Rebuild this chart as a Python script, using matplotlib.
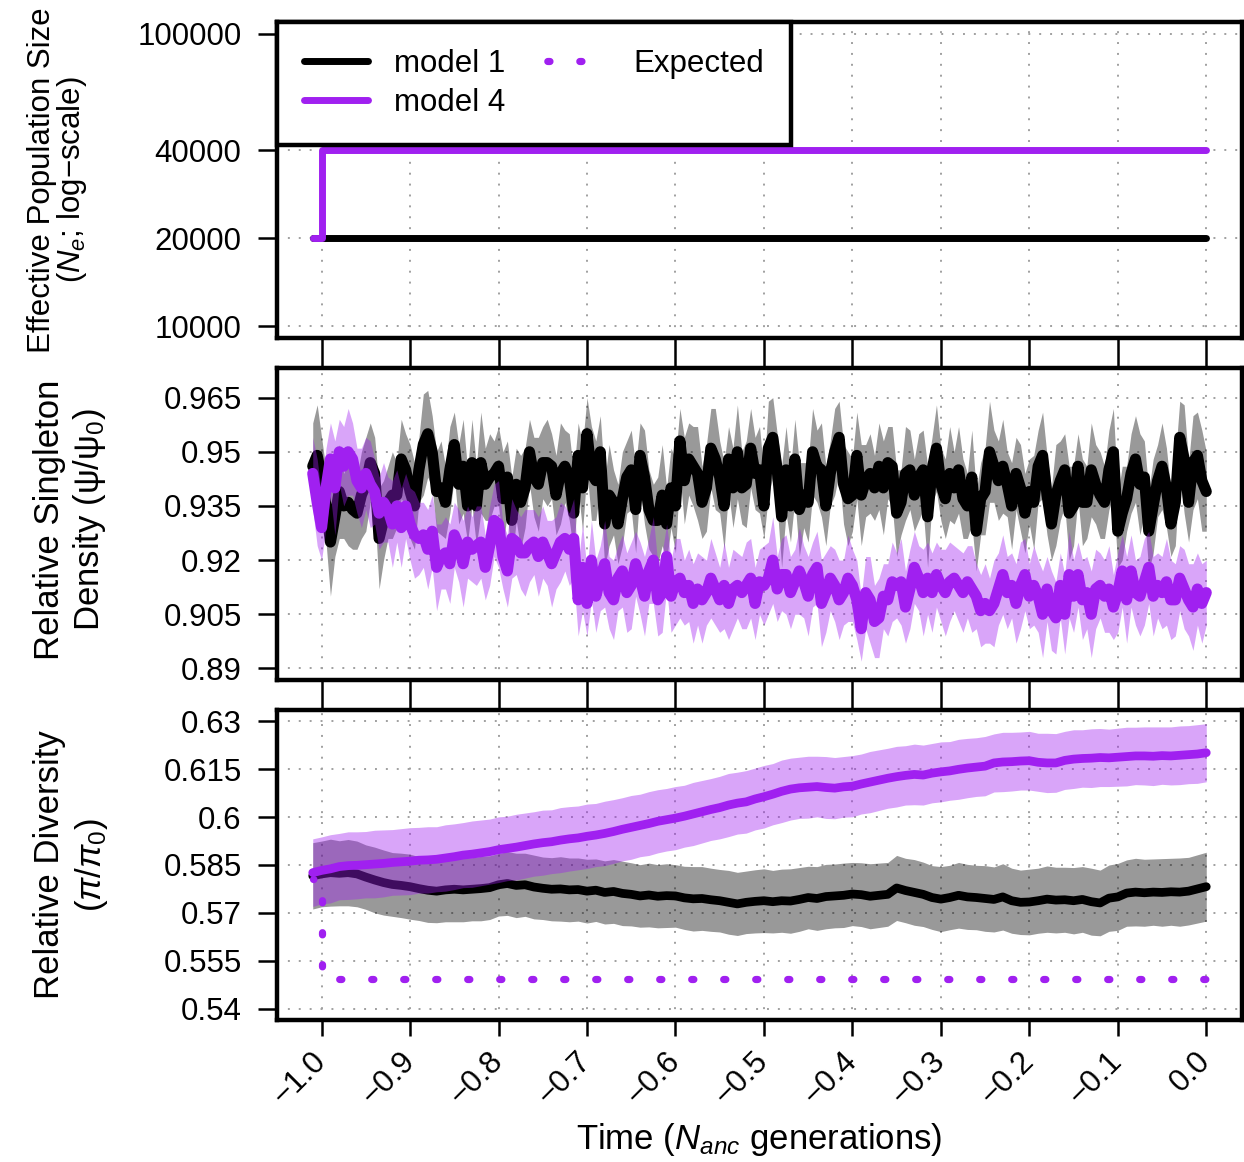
import numpy as np
import matplotlib
matplotlib.use("Agg")
import matplotlib.pyplot as plt
from matplotlib.lines import Line2D
from matplotlib.ticker import NullLocator

plt.rcParams['font.family'] = ['Liberation Sans', 'DejaVu Sans']
plt.rcParams['mathtext.fontset'] = 'custom'
plt.rcParams['mathtext.rm'] = 'Liberation Sans'
plt.rcParams['mathtext.it'] = 'Liberation Sans:italic'
plt.rcParams['mathtext.bf'] = 'Liberation Sans:bold'

# ---------------- data ----------------
# Panel 1: effective population size
ne_time = [-1.01, -1.0, 0.0]
ne_model1 = [20000, 20000, 20000]
ne_model4 = [20000, 40000, 40000]

# Panel 2: relative singleton density (time step 0.005 from -1.01 to 0)
sfs_time = np.round(np.linspace(-1.01, 0.0, 203), 3)
sfs_model1 = [
    0.946, 0.949, 0.943, 0.935, 0.925, 0.932, 0.939, 0.935, 0.936, 0.934,
    0.933, 0.938, 0.941, 0.947, 0.944, 0.926, 0.931, 0.936, 0.938, 0.938,
    0.948, 0.945, 0.939, 0.935, 0.945, 0.952, 0.955, 0.950, 0.939, 0.940,
    0.936, 0.945, 0.952, 0.941, 0.946, 0.935, 0.947, 0.935, 0.947, 0.941,
    0.943, 0.944, 0.946, 0.937, 0.943, 0.931, 0.941, 0.936, 0.940, 0.950,
    0.943, 0.941, 0.947, 0.947, 0.946, 0.938, 0.944, 0.946, 0.943, 0.933,
    0.949, 0.940, 0.955, 0.944, 0.942, 0.950, 0.930, 0.938, 0.936, 0.930,
    0.937, 0.943, 0.945, 0.934, 0.949, 0.943, 0.934, 0.931, 0.931, 0.938,
    0.930, 0.940, 0.935, 0.953, 0.942, 0.948, 0.946, 0.944, 0.936, 0.940,
    0.951, 0.948, 0.943, 0.935, 0.948, 0.940, 0.950, 0.940, 0.941,
    0.951, 0.944, 0.945, 0.935, 0.951, 0.954, 0.945, 0.932, 0.945, 0.935,
    0.948, 0.934, 0.938, 0.936, 0.950, 0.946, 0.945, 0.935, 0.944, 0.950,
    0.954, 0.941, 0.937, 0.938, 0.949, 0.938, 0.942, 0.944, 0.940, 0.946,
    0.940, 0.947, 0.946, 0.933, 0.936, 0.944, 0.945, 0.938, 0.943, 0.945,
    0.932, 0.945, 0.951, 0.941, 0.937, 0.944, 0.940, 0.945, 0.937, 0.935,
    0.943, 0.928, 0.937, 0.939, 0.950, 0.946, 0.942, 0.946, 0.941, 0.935,
    0.944, 0.940, 0.933, 0.939, 0.936, 0.946, 0.949, 0.938, 0.930, 0.938,
    0.942, 0.945, 0.933, 0.935, 0.946, 0.936, 0.936, 0.945, 0.941, 0.938,
    0.936, 0.945, 0.950, 0.928, 0.933, 0.937, 0.944, 0.948, 0.941, 0.943,
    0.928, 0.935, 0.942, 0.946, 0.940, 0.930, 0.936, 0.954, 0.948, 0.936,
    0.947, 0.949, 0.942, 0.939]
sfs_model4 = [
    0.944, 0.936, 0.929, 0.940, 0.948, 0.940, 0.950, 0.946, 0.950, 0.948,
    0.942, 0.940, 0.944, 0.941, 0.939, 0.933, 0.936, 0.934, 0.930, 0.935,
    0.929, 0.935, 0.930, 0.927, 0.926, 0.927, 0.923, 0.928, 0.918, 0.921,
    0.922, 0.919, 0.927, 0.924, 0.919, 0.925, 0.923, 0.924, 0.925, 0.918,
    0.924, 0.931, 0.930, 0.921, 0.917, 0.926, 0.925, 0.922, 0.922, 0.924,
    0.925, 0.921, 0.925, 0.922, 0.919, 0.922, 0.925, 0.926, 0.923, 0.926,
    0.909, 0.918, 0.908, 0.920, 0.910, 0.915, 0.919, 0.911, 0.909, 0.915,
    0.917, 0.911, 0.913, 0.919, 0.915, 0.910, 0.917, 0.920, 0.909, 0.911,
    0.921, 0.910, 0.914, 0.915, 0.911, 0.913, 0.908, 0.912, 0.909, 0.911,
    0.915, 0.912, 0.909, 0.913, 0.908, 0.912, 0.913, 0.911, 0.913,
    0.915, 0.908, 0.914, 0.913, 0.915, 0.920, 0.912, 0.916, 0.916, 0.911,
    0.914, 0.917, 0.914, 0.910, 0.916, 0.918, 0.908, 0.911, 0.915, 0.913,
    0.909, 0.911, 0.915, 0.913, 0.909, 0.901, 0.911, 0.909, 0.903, 0.904,
    0.910, 0.909, 0.914, 0.913, 0.914, 0.907, 0.912, 0.918, 0.915, 0.911,
    0.915, 0.911, 0.916, 0.913, 0.911, 0.914, 0.915, 0.913, 0.911, 0.914,
    0.912, 0.910, 0.906, 0.908, 0.906, 0.908, 0.912, 0.916, 0.911, 0.913,
    0.908, 0.913, 0.916, 0.910, 0.913, 0.910, 0.905, 0.912, 0.906, 0.904,
    0.913, 0.905, 0.916, 0.910, 0.916, 0.909, 0.911, 0.905, 0.912, 0.913,
    0.910, 0.912, 0.907, 0.911, 0.917, 0.909, 0.917, 0.911, 0.910, 0.914,
    0.918, 0.910, 0.913, 0.911, 0.914, 0.909, 0.909, 0.915, 0.912, 0.909,
    0.907, 0.912, 0.908, 0.911]
sfs_model1_hw = [
    0.012, 0.014, 0.011, 0.010, 0.015, 0.011, 0.013, 0.009, 0.012, 0.011,
    0.010, 0.012, 0.013, 0.011, 0.010, 0.014, 0.011, 0.010, 0.012, 0.009,
    0.011, 0.010, 0.013, 0.012, 0.009, 0.014, 0.012, 0.010, 0.011, 0.013,
    0.010, 0.012, 0.009, 0.011, 0.013, 0.010, 0.012, 0.011, 0.014, 0.010,
    0.012, 0.009, 0.011, 0.013, 0.010, 0.012, 0.010, 0.013, 0.011, 0.009,
    0.011, 0.013, 0.010, 0.012, 0.009, 0.011, 0.014, 0.010, 0.012, 0.011,
    0.009, 0.012, 0.010, 0.013, 0.011, 0.010, 0.012, 0.014, 0.009, 0.011,
    0.013, 0.010, 0.011, 0.012, 0.009, 0.013, 0.011, 0.010, 0.012, 0.014,
    0.010, 0.011, 0.013, 0.009, 0.012, 0.010, 0.011, 0.013, 0.010, 0.012,
    0.011, 0.014, 0.010, 0.012, 0.009, 0.011, 0.013, 0.010, 0.012, 0.011,
    0.010, 0.012, 0.009, 0.013, 0.011, 0.010, 0.014, 0.012, 0.010, 0.011,
    0.013, 0.009, 0.011, 0.012, 0.010, 0.013, 0.011, 0.009, 0.012, 0.010,
    0.011, 0.013, 0.010, 0.012, 0.014, 0.010, 0.011, 0.009, 0.012, 0.013,
    0.010, 0.011, 0.012, 0.009, 0.013, 0.011, 0.010, 0.012, 0.011, 0.014,
    0.009, 0.012, 0.010, 0.011, 0.013, 0.010, 0.012, 0.011, 0.009, 0.013,
    0.011, 0.010, 0.012, 0.014, 0.010, 0.011, 0.013, 0.009, 0.012, 0.010,
    0.012, 0.011, 0.009, 0.013, 0.010, 0.012, 0.011, 0.010, 0.014, 0.011,
    0.010, 0.013, 0.011, 0.009, 0.012, 0.010, 0.013, 0.011, 0.012, 0.010,
    0.011, 0.012, 0.010, 0.013, 0.009, 0.011, 0.012, 0.014, 0.010, 0.011,
    0.013, 0.010, 0.012, 0.011, 0.009, 0.012, 0.010, 0.015, 0.011, 0.013,
    0.012, 0.014, 0.011]
sfs_model4_hw = [
    0.010, 0.012, 0.009, 0.011, 0.010, 0.013, 0.009, 0.011, 0.012, 0.010,
    0.009, 0.011, 0.010, 0.012, 0.009, 0.010, 0.011, 0.009, 0.012, 0.010,
    0.011, 0.009, 0.010, 0.012, 0.010, 0.009, 0.011, 0.010, 0.012, 0.009,
    0.010, 0.011, 0.009, 0.010, 0.012, 0.010, 0.009, 0.011, 0.010, 0.009,
    0.011, 0.010, 0.012, 0.009, 0.010, 0.011, 0.009, 0.010, 0.012, 0.010,
    0.009, 0.011, 0.010, 0.009, 0.012, 0.010, 0.011, 0.009, 0.010, 0.011,
    0.010, 0.012, 0.009, 0.011, 0.010, 0.009, 0.012, 0.010, 0.011, 0.009,
    0.010, 0.011, 0.012, 0.009, 0.010, 0.011, 0.009, 0.012, 0.010, 0.011,
    0.009, 0.010, 0.012, 0.011, 0.009, 0.010, 0.011, 0.010, 0.012, 0.009,
    0.011, 0.010, 0.009, 0.012, 0.010, 0.011, 0.009, 0.010, 0.012, 0.011,
    0.010, 0.009, 0.011, 0.010, 0.012, 0.009, 0.010, 0.011, 0.010, 0.009,
    0.012, 0.010, 0.011, 0.009, 0.010, 0.012, 0.011, 0.009, 0.010, 0.011,
    0.009, 0.012, 0.010, 0.011, 0.009, 0.010, 0.012, 0.010, 0.011, 0.009,
    0.010, 0.011, 0.009, 0.012, 0.010, 0.011, 0.010, 0.009, 0.012, 0.010,
    0.011, 0.009, 0.010, 0.012, 0.011, 0.009, 0.010, 0.011, 0.010, 0.012,
    0.009, 0.010, 0.011, 0.009, 0.012, 0.010, 0.011, 0.010, 0.009, 0.011,
    0.012, 0.010, 0.009, 0.011, 0.010, 0.012, 0.009, 0.011, 0.010, 0.009,
    0.011, 0.012, 0.010, 0.009, 0.011, 0.010, 0.012, 0.011, 0.009, 0.010,
    0.012, 0.009, 0.011, 0.010, 0.012, 0.010, 0.009, 0.011, 0.012, 0.010,
    0.011, 0.009, 0.010, 0.012, 0.011, 0.010, 0.009, 0.011, 0.010, 0.012,
    0.010, 0.011, 0.009]

# Panel 3: relative diversity (time step 0.01 from -1.01 to 0)
div_time = np.round(np.linspace(-1.01, 0.0, 102), 3)
div_model1 = [
    0.5816, 0.5822, 0.5826, 0.5824, 0.5826, 0.5822, 0.5812, 0.5803, 0.5795, 0.5789,
    0.5786, 0.5782, 0.5776, 0.5771, 0.5768, 0.5772, 0.5774, 0.5772, 0.5774, 0.5776,
    0.5779, 0.5788, 0.5792, 0.5786, 0.5788, 0.5781, 0.5777, 0.5774, 0.5775, 0.5772,
    0.5773, 0.5768, 0.5771, 0.5764, 0.5767, 0.5761, 0.5758, 0.5753, 0.5756, 0.5752,
    0.5754, 0.5753, 0.5747, 0.5744, 0.5745, 0.5741, 0.5738, 0.5733, 0.5728, 0.5733,
    0.5736, 0.5738, 0.5735, 0.5738, 0.5737, 0.5742, 0.5748, 0.5745, 0.5751, 0.5753,
    0.5755, 0.5759, 0.5757, 0.5752, 0.5755, 0.5758, 0.5778, 0.5770, 0.5764, 0.5758,
    0.5748, 0.5743, 0.5748, 0.5755, 0.5750, 0.5748, 0.5745, 0.5742, 0.5750, 0.5738,
    0.5733, 0.5734, 0.5738, 0.5743, 0.5740, 0.5741, 0.5738, 0.5742, 0.5735, 0.5731,
    0.5746, 0.5750, 0.5762, 0.5765, 0.5763, 0.5765, 0.5764, 0.5766, 0.5765, 0.5768,
    0.5775, 0.5782]
div_model4 = [
    0.5826, 0.5833, 0.5838, 0.5845, 0.5848, 0.5849, 0.5851, 0.5853, 0.5855, 0.5858,
    0.5860, 0.5862, 0.5865, 0.5866, 0.5868, 0.5872, 0.5876, 0.5881, 0.5884, 0.5888,
    0.5892, 0.5898, 0.5902, 0.5906, 0.5911, 0.5916, 0.5920, 0.5923, 0.5928, 0.5932,
    0.5935, 0.5940, 0.5944, 0.5949, 0.5955, 0.5962, 0.5968, 0.5974, 0.5980, 0.5987,
    0.5992, 0.5997, 0.6003, 0.6010, 0.6017, 0.6024, 0.6030, 0.6038, 0.6044, 0.6048,
    0.6057, 0.6064, 0.6072, 0.6081, 0.6088, 0.6092, 0.6094, 0.6096, 0.6093, 0.6091,
    0.6095, 0.6097, 0.6104, 0.6110, 0.6116, 0.6122, 0.6127, 0.6131, 0.6134, 0.6132,
    0.6138, 0.6142, 0.6145, 0.6150, 0.6154, 0.6157, 0.6160, 0.6170, 0.6173, 0.6174,
    0.6176, 0.6177, 0.6172, 0.6170, 0.6170, 0.6178, 0.6182, 0.6184, 0.6185, 0.6187,
    0.6186, 0.6188, 0.6190, 0.6192, 0.6192, 0.6191, 0.6193, 0.6192, 0.6194, 0.6196,
    0.6198, 0.6202]
div_model1_hw = [
    0.0104, 0.0103, 0.0105, 0.0102, 0.0104, 0.0103, 0.0101, 0.0103, 0.0102, 0.0100,
    0.0101, 0.0102, 0.0100, 0.0101, 0.0099, 0.0100, 0.0102, 0.0100, 0.0099, 0.0101,
    0.0100, 0.0098, 0.0100, 0.0101, 0.0099, 0.0100, 0.0098, 0.0099, 0.0101, 0.0100,
    0.0099, 0.0100, 0.0098, 0.0099, 0.0100, 0.0101, 0.0099, 0.0098, 0.0100, 0.0099,
    0.0100, 0.0098, 0.0099, 0.0101, 0.0100, 0.0099, 0.0098, 0.0100, 0.0099, 0.0098,
    0.0099, 0.0100, 0.0098, 0.0099, 0.0101, 0.0100, 0.0098, 0.0100, 0.0101, 0.0100,
    0.0101, 0.0099, 0.0100, 0.0102, 0.0101, 0.0100, 0.0102, 0.0101, 0.0103, 0.0101,
    0.0100, 0.0102, 0.0101, 0.0103, 0.0102, 0.0101, 0.0103, 0.0102, 0.0104, 0.0102,
    0.0101, 0.0103, 0.0102, 0.0104, 0.0103, 0.0102, 0.0104, 0.0103, 0.0105, 0.0103,
    0.0104, 0.0105, 0.0104, 0.0106, 0.0105, 0.0104, 0.0106, 0.0105, 0.0107, 0.0106,
    0.0107, 0.0108]
div_model4_hw = [
    0.0106, 0.0105, 0.0107, 0.0104, 0.0106, 0.0105, 0.0104, 0.0106, 0.0105, 0.0103,
    0.0104, 0.0105, 0.0103, 0.0104, 0.0102, 0.0104, 0.0103, 0.0102, 0.0104, 0.0103,
    0.0102, 0.0103, 0.0101, 0.0103, 0.0102, 0.0101, 0.0102, 0.0100, 0.0102, 0.0101,
    0.0100, 0.0101, 0.0099, 0.0101, 0.0100, 0.0099, 0.0100, 0.0098, 0.0100, 0.0099,
    0.0098, 0.0099, 0.0097, 0.0099, 0.0098, 0.0097, 0.0098, 0.0099, 0.0097, 0.0098,
    0.0097, 0.0098, 0.0096, 0.0098, 0.0097, 0.0096, 0.0097, 0.0095, 0.0097, 0.0096,
    0.0095, 0.0096, 0.0094, 0.0096, 0.0095, 0.0094, 0.0095, 0.0093, 0.0095, 0.0094,
    0.0093, 0.0094, 0.0092, 0.0094, 0.0093, 0.0092, 0.0093, 0.0091, 0.0093, 0.0092,
    0.0091, 0.0092, 0.0091, 0.0093, 0.0092, 0.0091, 0.0092, 0.0090, 0.0092, 0.0091,
    0.0090, 0.0091, 0.0092, 0.0090, 0.0091, 0.0092, 0.0090, 0.0091, 0.0092, 0.0091,
    0.0092, 0.0091]

# Expected diversity (model 4)
exp_time = [-1.01, -1.0, 0.0]
exp_div = [0.5806, 0.5493, 0.5493]

# ticks
x_ticks = [-1.0, -0.9, -0.8, -0.7, -0.6, -0.5, -0.4, -0.3, -0.2, -0.1, 0.0]
x_ticklabels = ['\u22121.0', '\u22120.9', '\u22120.8', '\u22120.7', '\u22120.6', '\u22120.5',
                '\u22120.4', '\u22120.3', '\u22120.2', '\u22120.1', '0.0']
ne_ticks = [10000, 20000, 40000, 100000]
ne_ticklabels = ['10000', '20000', '40000', '100000']
sfs_ticks = [0.89, 0.905, 0.92, 0.935, 0.95, 0.965]
sfs_ticklabels = ['0.89', '0.905', '0.92', '0.935', '0.95', '0.965']
div_ticks = [0.54, 0.555, 0.57, 0.585, 0.6, 0.615, 0.63]
div_ticklabels = ['0.54', '0.555', '0.57', '0.585', '0.6', '0.615', '0.63']

# ---------------- style ----------------
PURPLE = '#A020F0'
W, H = 1244, 1162
TICK_FS = 22.5
LAB_FS = 25
SPINE_LW = 3.2
GRID_STYLE = dict(color='#a0a0a0', linestyle=(0, (1, 4.6)), linewidth=1.4)
EXP_LW = 5.2
EXP_ON = 0.3
EXP_PERIOD = 23.04 / EXP_LW

fig = plt.figure(figsize=(W / 100, H / 100), dpi=100)
fig.patch.set_facecolor('white')

def px_axes(x0, y0, x1, y1):
    return fig.add_axes([x0 / W, 1 - y1 / H, (x1 - x0) / W, (y1 - y0) / H])

ax1 = px_axes(277, 22, 1242, 338)
ax2 = px_axes(277, 368, 1242, 680)
ax3 = px_axes(277, 710, 1242, 1020)

xlim = (-1.0504, 0.0404)
for ax in (ax1, ax2, ax3):
    ax.set_xlim(*xlim)
    ax.set_xticks(x_ticks)
    for s in ax.spines.values():
        s.set_linewidth(SPINE_LW)
        s.set_color('black')
    ax.set_axisbelow(True)
    ax.grid(True, which='major', **GRID_STYLE)
    ax.tick_params(axis='y', direction='out', length=13.5, width=1.8,
                   labelsize=TICK_FS, pad=12)

gap_pt = 30 * 72 / 100
for ax in (ax1, ax2):
    ax.tick_params(axis='x', direction='out', length=gap_pt, width=1.8,
                   labelbottom=False)
ax3.tick_params(axis='x', direction='out', length=11.5, width=1.8,
                labelsize=TICK_FS, pad=15)

# ---- Panel 1 ----
ax1.set_yscale('log')
ax1.set_ylim(10 ** 3.96, 10 ** 5.04)
ax1.set_yticks(ne_ticks)
ax1.set_yticklabels(ne_ticklabels)
ax1.yaxis.set_minor_locator(NullLocator())
ax1.plot(ne_time, ne_model1, drawstyle='steps-post', color='black', lw=5,
         solid_capstyle='round', solid_joinstyle='round', zorder=2)
ax1.plot(ne_time, ne_model4, drawstyle='steps-post', color=PURPLE, lw=5,
         solid_capstyle='round', solid_joinstyle='round', zorder=3)

h1 = Line2D([], [], color='black', lw=5, solid_capstyle='round')
h4 = Line2D([], [], color=PURPLE, lw=5, solid_capstyle='round')
he = Line2D([], [], color=PURPLE, lw=EXP_LW,
            linestyle=(20.66 / EXP_LW, (EXP_ON, EXP_PERIOD - EXP_ON)),
            dash_capstyle='round')
leg = ax1.legend([h1, h4, he], ['model 1', 'model 4', 'Expected'],
                 loc='upper left', bbox_to_anchor=(0, 1), borderaxespad=0,
                 ncol=2, fontsize=TICK_FS, frameon=True, fancybox=False,
                 edgecolor='black', framealpha=1, handlelength=2.05,
                 handletextpad=0.83, columnspacing=1.25, borderpad=0.85,
                 labelspacing=0.3)
leg.get_frame().set_linewidth(SPINE_LW)
leg.set_zorder(10)

# ---- Panel 2 ----
ax2.set_ylim(0.8868, 0.9732)
ax2.set_yticks(sfs_ticks)
ax2.set_yticklabels(sfs_ticklabels)
m1 = np.array(sfs_model1); m1w = np.array(sfs_model1_hw)
m4 = np.array(sfs_model4); m4w = np.array(sfs_model4_hw)
ax2.fill_between(sfs_time, m1 - m1w, m1 + m1w, color='black', alpha=0.4, lw=0, zorder=1)
ax2.plot(sfs_time, m1, color='black', lw=8, solid_joinstyle='round',
         solid_capstyle='round', zorder=2)
ax2.fill_between(sfs_time, m4 - m4w, m4 + m4w, color=PURPLE, alpha=0.4, lw=0, zorder=3)
ax2.plot(sfs_time, m4, color=PURPLE, lw=8, solid_joinstyle='round',
         solid_capstyle='round', zorder=4)

# ---- Panel 3 ----
ax3.set_ylim(0.5364, 0.6336)
ax3.set_yticks(div_ticks)
ax3.set_yticklabels(div_ticklabels)
d1 = np.array(div_model1); d1w = np.array(div_model1_hw)
d4 = np.array(div_model4); d4w = np.array(div_model4_hw)
ax3.fill_between(div_time, d1 - d1w, d1 + d1w, color='black', alpha=0.4, lw=0, zorder=1)
ax3.plot(div_time, d1, color='black', lw=6.3, solid_joinstyle='round',
         solid_capstyle='round', zorder=2)
ax3.fill_between(div_time, d4 - d4w, d4 + d4w, color=PURPLE, alpha=0.4, lw=0, zorder=3)
ax3.plot(div_time, d4, color=PURPLE, lw=6.3, solid_joinstyle='round',
         solid_capstyle='round', zorder=4)
ax3.plot(exp_time, exp_div, drawstyle='steps-post', color=PURPLE, lw=EXP_LW,
         linestyle=(1.3 / EXP_LW, (EXP_ON, EXP_PERIOD - EXP_ON)),
         dash_capstyle='round', zorder=5)

ax3.set_xticklabels(x_ticklabels)
for lab in ax3.get_xticklabels():
    lab.set_rotation(45)
    lab.set_ha('right')
    lab.set_va('center')
    lab.set_rotation_mode('anchor')

# ---- axis titles ----
def ytext(xpx, ypx, s, fs):
    fig.text(xpx / W, 1 - ypx / H, s, rotation=90, ha='center', va='center',
             fontsize=fs)

ytext(42, 180, 'Effective Population Size', TICK_FS)
ytext(72, 180, '($N_e$; log\u2212scale)', TICK_FS)
ytext(50, 520, 'Relative Singleton', LAB_FS)
ytext(90, 520, r'Density ($\mathrm{\psi/\psi_0}$)', LAB_FS)
ytext(50, 865, 'Relative Diversity', LAB_FS)
ytext(92, 865, r'$(\pi/\pi_0)$', LAB_FS)
fig.text(759.5 / W, 1 - 1140 / H, r'Time ($N_{anc}$ generations)', ha='center',
         va='center', fontsize=LAB_FS)

fig.savefig('out.png', dpi=100, facecolor='white')
